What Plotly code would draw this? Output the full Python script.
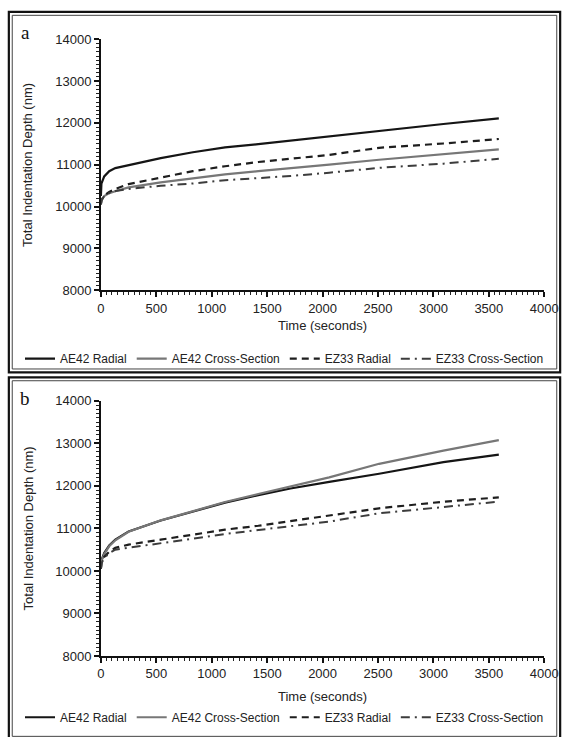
import plotly.graph_objects as go

# ---------------- data ----------------
time_s = [0, 5, 30, 75, 130, 250, 540, 830, 1120, 1420, 1710, 2060, 2510, 3090, 3590]

# panel a
a_ae42_radial = [10250, 10550, 10720, 10846, 10920, 10986, 11158, 11298, 11415, 11492, 11578, 11670, 11818, 11974, 12110]
a_ae42_cross = [10050, 10150, 10250, 10320, 10366, 10459, 10576, 10676, 10769, 10846, 10909, 11000, 11119, 11252, 11368]
a_ez33_radial = [10050, 10150, 10260, 10350, 10420, 10536, 10692, 10846, 10963, 11065, 11142, 11235, 11405, 11508, 11615]
a_ez33_cross = [10050, 10150, 10250, 10320, 10370, 10420, 10497, 10552, 10629, 10676, 10730, 10809, 10925, 11026, 11142]

# panel b
b_ae42_radial = [10050, 10250, 10420, 10600, 10736, 10930, 11186, 11395, 11605, 11783, 11938, 12093, 12286, 12558, 12737]
b_ae42_cross = [10050, 10230, 10400, 10580, 10720, 10920, 11190, 11410, 11620, 11810, 11980, 12200, 12519, 12830, 13077]
b_ez33_radial = [10050, 10200, 10330, 10450, 10542, 10620, 10736, 10853, 10970, 11062, 11170, 11300, 11473, 11628, 11730]
b_ez33_cross = [10050, 10180, 10300, 10420, 10500, 10542, 10659, 10760, 10870, 10960, 11040, 11160, 11356, 11495, 11630]

series_names = ["AE42 Radial", "AE42 Cross-Section", "EZ33 Radial", "EZ33 Cross-Section"]
x_ticks = [0, 500, 1000, 1500, 2000, 2500, 3000, 3500, 4000]
y_ticks = [8000, 9000, 10000, 11000, 12000, 13000, 14000]

# ---------------- figure ----------------
W, H = 579, 737
FONT = "Liberation Sans, Arial, sans-serif"

def py(px):
    return 1 - px / H

def pxx(px):
    return px / W

styles = [
    dict(color="#151515", width=2.2, dash="solid"),
    dict(color="#777777", width=2.2, dash="solid"),
    dict(color="#1e1e1e", width=2.2, dash="7px,5px"),
    dict(color="#3c3c3c", width=2.0, dash="9px,5px,2px,5px"),
]

fig = go.Figure()
panels = [
    ("x", "y", "legend", [a_ae42_radial, a_ae42_cross, a_ez33_radial, a_ez33_cross]),
    ("x2", "y2", "legend2", [b_ae42_radial, b_ae42_cross, b_ez33_radial, b_ez33_cross]),
]
for xa, ya, lg, data in panels:
    for name, vals, st in zip(series_names, data, styles):
        fig.add_trace(go.Scatter(
            x=time_s, y=vals, mode="lines", name=name,
            line=dict(color=st["color"], width=st["width"], dash=st["dash"]),
            xaxis=xa, yaxis=ya, legend=lg, showlegend=True,
        ))

x_dom = [pxx(100), pxx(557.6)]
axis_common = dict(
    showline=True, linecolor="#111", linewidth=1.6, showgrid=False, zeroline=False,
    ticks="outside", ticklen=5, tickwidth=1.6, tickcolor="#111", tickformat="d",
    tickfont=dict(family=FONT, size=13, color="#222"),
)
minor_x = dict(dtick=50, ticklen=3, tickwidth=1, tickcolor="#222", ticks="outside", showgrid=False)
minor_y = dict(dtick=100, ticklen=3, tickwidth=1, tickcolor="#222", ticks="outside", showgrid=False)
fig.update_layout(
    width=W, height=H, margin=dict(l=0, r=0, t=0, b=0),
    paper_bgcolor="white", plot_bgcolor="white",
    xaxis=dict(domain=x_dom, range=[0, 4000], tickvals=x_ticks, anchor="y", minor=minor_x, **axis_common),
    yaxis=dict(domain=[py(289), py(33)], range=[8000, 14000], tickvals=y_ticks, anchor="x", minor=minor_y, **axis_common),
    xaxis2=dict(domain=x_dom, range=[0, 4000], tickvals=x_ticks, anchor="y2", minor=minor_x, **axis_common),
    yaxis2=dict(domain=[py(662.5), py(402)], range=[8000, 14000], tickvals=y_ticks, anchor="x2", minor=minor_y, **axis_common),
    legend=dict(orientation="h", x=0.5, xanchor="center", y=py(359), yanchor="middle",
                font=dict(family=FONT, size=12, color="#222"), bgcolor="rgba(0,0,0,0)",
                itemclick=False, tracegroupgap=0),
    legend2=dict(orientation="h", x=0.5, xanchor="center", y=py(725), yanchor="middle",
                 font=dict(family=FONT, size=12, color="#222"), bgcolor="rgba(0,0,0,0)",
                 itemclick=False, tracegroupgap=0),
    showlegend=True,
)

annotations = []
for lab, ly, tly, ycen in [("a", 26, 325, 161), ("b", 400, 704, 532)]:
    annotations.append(dict(text=lab, x=pxx(22), y=py(ly), xref="paper", yref="paper",
                            showarrow=False, xanchor="center", yanchor="middle",
                            font=dict(family="Liberation Serif, Times New Roman, serif", size=19, color="#111")))
    annotations.append(dict(text="Time (seconds)", x=pxx(329), y=py(tly), xref="paper", yref="paper",
                            showarrow=False, xanchor="center", yanchor="middle",
                            font=dict(family=FONT, size=13, color="#222")))
    annotations.append(dict(text="Total Indentation Depth (nm)", x=pxx(25), y=py(ycen), xref="paper",
                            yref="paper", showarrow=False, textangle=-90, xanchor="center",
                            yanchor="middle", font=dict(family=FONT, size=13, color="#222")))
fig.update_layout(annotations=annotations)

shapes = []
for top, bottom in [(5, 373), (378, 748)]:
    shapes.append(dict(type="rect", xref="paper", yref="paper",
                       x0=pxx(5), x1=pxx(574), y0=py(bottom), y1=py(top),
                       line=dict(color="#111", width=2.2)))
    shapes.append(dict(type="rect", xref="paper", yref="paper",
                       x0=pxx(8.5), x1=pxx(570.5), y0=py(bottom - 3.5), y1=py(top + 3.5),
                       line=dict(color="#444", width=1)))
fig.update_layout(shapes=shapes)

fig.write_html("out.html", config={"displayModeBar": False},
               post_script="document.body.style.margin='0px';")
